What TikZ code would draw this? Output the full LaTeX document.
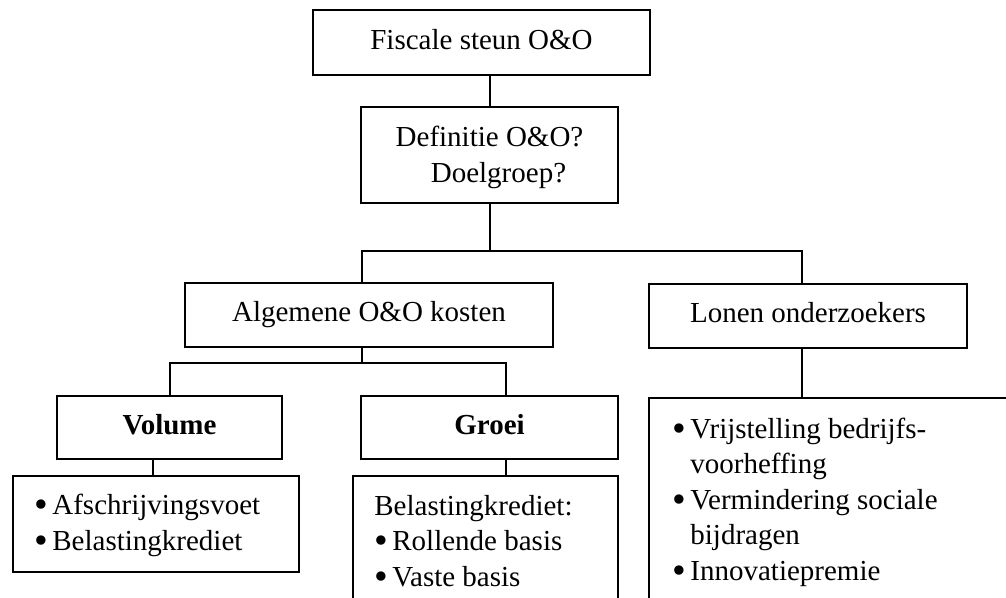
\documentclass[tikz,border=0pt]{standalone}
\usepackage{fontspec}
\setmainfont{Liberation Serif}
\newcommand{\bul}{\makebox[9pt][l]{\raisebox{-1.6pt}{\scalebox{1.35}{\textbullet}}}}
\begin{document}
\begin{tikzpicture}[x=0.5pt,y=-0.5pt,
  every node/.style={font=\fontsize{14.5}{17.75}\selectfont},
  box/.style={draw, line width=1pt, inner sep=0pt, align=center},
  onebox/.style={box, text height=10pt, text depth=3pt},
  listtext/.style={inner sep=0pt, align=left, anchor=base west},
  conn/.style={line width=1pt}]
\useasboundingbox (0,0) rectangle (1006,598);
\clip (0,0) rectangle (1006,598);
% boxes
\node[onebox, minimum width=168.5pt, minimum height=32.5pt] (fis) at (481.5,42.5) {Fiscale steun O\&O};
\node[box, minimum width=128.5pt, minimum height=48pt] (def) at (489.5,155) {};
\node[inner sep=0pt, align=center, anchor=base, font=\fontsize{14.5}{18}\selectfont] (deft) at (489.5,183) {Definitie O\&O?\\\hspace*{9pt}Doelgroep?};
\node[onebox, minimum width=184pt, minimum height=32pt] (alg) at (369,315) {Algemene O\&O kosten};
\node[onebox, minimum width=159pt, minimum height=32pt] (lon) at (808,316) {Lonen onderzoekers};
\node[onebox, minimum width=112.5pt, minimum height=31.5pt] (vol) at (169.5,427.5) {\textbf{Volume}};
\node[onebox, minimum width=128.5pt, minimum height=31.5pt] (gro) at (489.5,427.5) {\textbf{Groei}};
\node[box, minimum width=143pt, minimum height=48pt] (vl) at (156,524) {};
\node[box, minimum width=132.5pt, minimum height=67pt] (gl) at (485.5,543) {};
\node[box, minimum width=180.5pt, minimum height=106pt] (ll) at (829.5,504) {};
% list texts (anchored at the baseline of their last line)
\node[listtext] (vlt) at (34,550) {\bul Afschrijvingsvoet\\\bul Belastingkrediet};
\node[listtext] (glt) at (374,586) {Belastingkrediet:\\\bul Rollende basis\\\bul Vaste basis};
\node[listtext] (llt) at (672,580) {\bul Vrijstelling bedrijfs-\\\hspace*{9pt}voorheffing\\\bul Vermindering sociale\\\hspace*{9pt}bijdragen\\\bul Innovatiepremie};
% junction coordinates
\coordinate (j1) at (489.5,251);
\coordinate (a1) at (362,251);
\coordinate (a2) at (802,251);
\coordinate (b0) at (362,363);
\coordinate (b1) at (169.5,363);
\coordinate (b2) at (506,363);
\coordinate (c1) at (153,0);
% connectors
\draw[conn] (fis.south -| def.north) -- (def.north);
\draw[conn] (def.south) -- (j1);
\draw[conn] (a1 |- alg.north) -- (a1) -- (a2) -- (a2 |- lon.north);
\draw[conn] (b0 |- alg.south) -- (b0);
\draw[conn] (b1 |- vol.north) -- (b1) -- (b2) -- (b2 |- gro.north);
\draw[conn] (vol.south -| c1) -- (vl.north -| c1);
\draw[conn] (gro.south -| b2) -- (gl.north -| b2);
\draw[conn] (lon.south -| a2) -- (ll.north -| a2);
\end{tikzpicture}
\end{document}
